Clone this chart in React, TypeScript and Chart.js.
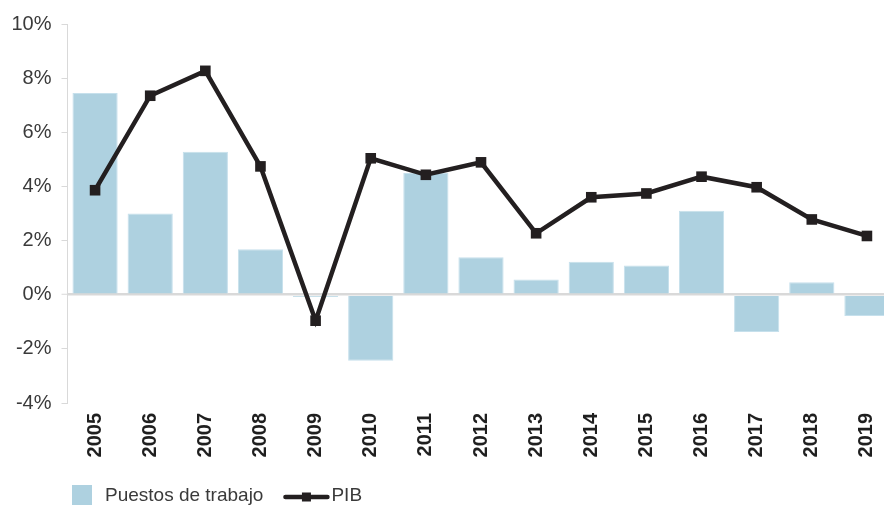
import React, { useEffect, useRef } from "react";
import { Chart, registerables } from "chart.js";

Chart.register(...registerables);

const categories = ["2005", "2006", "2007", "2008", "2009", "2010", "2011", "2012", "2013", "2014", "2015", "2016", "2017", "2018", "2019"];
const puestosDeTrabajo = [7.45, 3.0, 5.28, 1.68, -0.08, -2.44, 4.5, 1.38, 0.56, 1.22, 1.08, 3.1, -1.38, 0.46, -0.79];
const pib = [3.86, 7.35, 8.27, 4.74, -0.96, 5.04, 4.43, 4.89, 2.27, 3.6, 3.74, 4.36, 3.97, 2.78, 2.17];
const yTicks = [-4, -2, 0, 2, 4, 6, 8, 10];

const BAR_COLOR = "#aed1e0";
const LINE_COLOR = "#231f20";
const TEXT_COLOR = "#3a3a3a";
const FONT = "'Liberation Sans', Arial, sans-serif";

const legendPlugin = {
  id: "customLegend",
  afterDraw(chart: any) {
    const ctx = chart.ctx;
    const ds = chart.data.datasets;
    const bar = ds.find((d: any) => d.type === "bar");
    const line = ds.find((d: any) => d.type === "line");
    const cy = 495;
    ctx.save();
    ctx.font = `19px ${FONT}`;
    ctx.textBaseline = "middle";
    let x = 72;
    ctx.fillStyle = bar.backgroundColor;
    ctx.fillRect(x, cy - 10, 20, 20);
    x += 33;
    ctx.fillStyle = TEXT_COLOR;
    ctx.fillText(bar.label, x, cy + 1);
    x += ctx.measureText(bar.label).width + 22;
    ctx.strokeStyle = line.borderColor;
    ctx.lineWidth = 4.5;
    ctx.lineCap = "round";
    ctx.beginPath();
    ctx.moveTo(x, cy + 2);
    ctx.lineTo(x + 42, cy + 2);
    ctx.stroke();
    ctx.fillStyle = line.borderColor;
    ctx.fillRect(x + 21 - 4.5, cy + 2 - 4.5, 9, 9);
    x += 46;
    ctx.fillStyle = TEXT_COLOR;
    ctx.fillText(line.label, x, cy + 1);
    ctx.restore();
  },
};

export default function App() {
  const canvasRef = useRef<HTMLCanvasElement | null>(null);

  useEffect(() => {
    document.body.style.margin = "0";
    document.body.style.overflow = "hidden";
    const canvas = canvasRef.current;
    if (!canvas) return;
    const chart = new Chart(canvas, {
      data: {
        labels: categories,
        datasets: [
          {
            type: "line",
            label: "PIB",
            data: pib,
            borderColor: LINE_COLOR,
            backgroundColor: LINE_COLOR,
            borderWidth: 4.5,
            pointStyle: "rect",
            pointRadius: 7.5,
            pointBorderWidth: 0,
            pointBackgroundColor: LINE_COLOR,
            tension: 0,
            order: 0,
          },
          {
            type: "bar",
            label: "Puestos de trabajo",
            data: puestosDeTrabajo,
            backgroundColor: BAR_COLOR,
            borderColor: "#c6e0ec",
            borderWidth: 1,
            categoryPercentage: 1,
            barPercentage: 0.82,
            order: 1,
          },
        ],
      } as any,
      options: {
        animation: false,
        responsive: false,
        maintainAspectRatio: false,
        layout: { padding: { top: 24, bottom: 40, left: 0, right: 0 } },
        plugins: {
          legend: { display: false },
          tooltip: { enabled: false },
        },
        scales: {
          x: {
            type: "category",
            grid: { display: false, drawTicks: false },
            border: { display: false },
            ticks: {
              minRotation: 90,
              maxRotation: 90,
              padding: 10,
              color: "#1f1f1f",
              font: { family: FONT, size: 20, weight: "bold" },
            },
            afterFit: (scale: any) => {
              scale.height = 65;
            },
          },
          y: {
            min: -4,
            max: 10,
            afterBuildTicks: (scale: any) => {
              scale.ticks = yTicks.map((v) => ({ value: v }));
            },
            ticks: {
              padding: 10,
              color: TEXT_COLOR,
              font: { family: FONT, size: 20 },
              callback: (v: any) => `${v}%`,
            },
            grid: {
              drawOnChartArea: true,
              color: (c: any) => (c.tick && c.tick.value === 0 ? "#d9d9d9" : "rgba(0,0,0,0)"),
              lineWidth: (c: any) => (c.tick && c.tick.value === 0 ? 2.5 : 1),
              tickColor: "#d9d9d9",
              tickLength: 6,
              tickWidth: 1,
            },
            border: { display: true, color: "#d9d9d9", width: 1 },
            afterFit: (scale: any) => {
              scale.width = 67.5;
            },
          },
        },
      } as any,
      plugins: [legendPlugin],
    });
    return () => chart.destroy();
  }, []);

  return (
    <div style={{ width: 884, height: 508, overflow: "hidden", position: "relative" }}>
      <canvas ref={canvasRef} width={902} height={508} style={{ width: 902, height: 508, display: "block" }} />
    </div>
  );
}
